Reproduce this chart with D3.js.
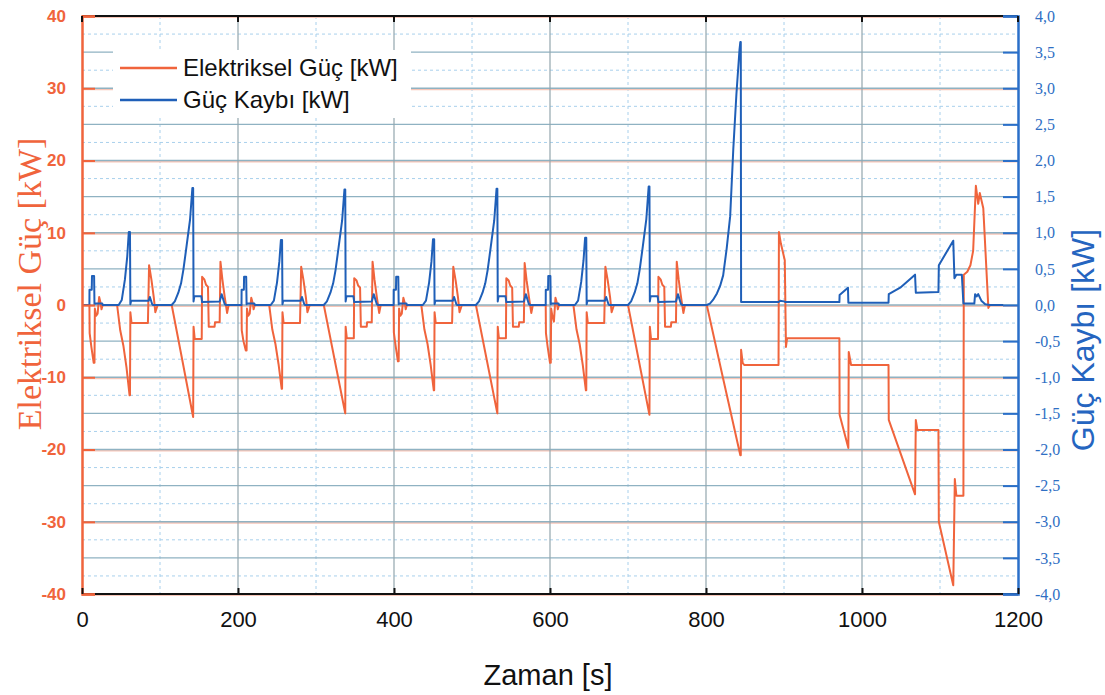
<!DOCTYPE html>
<html>
<head>
<meta charset="utf-8">
<script src="https://cdn.jsdelivr.net/npm/d3@7"></script>
<style>
  body { margin: 0; background: #fff; }
  svg { display: block; }
</style>
</head>
<body>
<div id="chart"></div>
<script>
// eksen tikleri
var timeTicks = [0, 200, 400, 600, 800, 1000, 1200];
var gucTicks = [40, 30, 20, 10, 0, -10, -20, -30, -40];
var kayipTicks = [4, 3.5, 3, 2.5, 2, 1.5, 1, 0.5, 0, -0.5, -1, -1.5, -2, -2.5, -3, -3.5, -4];

// Elektriksel güç [kW], [zaman s, değer]
var elektrikselGuc = [
  [0,0],[9.5,0],[9.8,-3.9],[12,-5.8],[15,-8.0],[16,-8.0],[16.5,-0.5],[18,-1.5],[20,-1.2],[22,1.1],[24,0.2],[25,-0.6],[26.5,0],
  [45,0],[49,-3.5],[53,-5.6],[57,-8.6],[61,-12.5],[61.5,-12.5],[62,-1.0],[63.5,-2.5],[84.5,-2.5],[86,5.5],[89,3.5],[92,1.1],[94,-1.0],[97,0],
  [115,0],[128,-7.3],[142.5,-15.5],[143,-3.0],[144.5,-4.7],[153.5,-4.7],[154,3.9],[157,3.5],[159,2.8],[161.5,2.5],[162.5,-3.0],[170,-3.0],[170.5,-2.4],[176.5,-2.4],[177.5,6.0],[180,3.5],[183,1.1],[186,-1.1],[188,0],
  [204.5,0],[204.8,-3.5],[207,-5.0],[210,-6.3],[211,-6.3],[211.5,-0.5],[213,-1.5],[215,-1.2],[217,1.0],[219,0.2],[220,-0.6],[221.5,0],
  [240,0],[244,-3.4],[248,-5.4],[252,-8.2],[256,-11.6],[256.5,-11.6],[257,-1.0],[258.5,-2.5],[279.5,-2.5],[281,5.3],[284,3.4],[287,1.1],[289,-1.0],[292,0],
  [310,0],[323,-7.1],[337.5,-15.0],[338,-3.0],[339.5,-4.6],[348.5,-4.6],[349,3.7],[352,3.4],[354,2.7],[356.5,2.4],[357.5,-3.0],[365,-3.0],[365.5,-2.4],[371.5,-2.4],[372.5,6.0],[375,3.5],[378,1.1],[381,-1.1],[383,0],
  [399.5,0],[399.8,-3.8],[402,-5.6],[405,-7.8],[406,-7.8],[406.5,-0.5],[408,-1.5],[410,-1.2],[412,1.0],[414,0.2],[415,-0.6],[416.5,0],
  [435,0],[439,-3.4],[443,-5.4],[447,-8.3],[451,-11.8],[451.5,-11.8],[452,-1.0],[453.5,-2.5],[474.5,-2.5],[476,5.3],[479,3.4],[482,1.1],[484,-1.0],[487,0],
  [505,0],[518,-7.1],[532.5,-15.0],[533,-3.0],[534.5,-4.6],[543.5,-4.6],[544,3.7],[547,3.4],[549,2.7],[551.5,2.4],[552.5,-3.0],[560,-3.0],[560.5,-2.4],[566.5,-2.4],[567.5,5.8],[570,3.4],[573,1.1],[576,-1.1],[578,0],
  [594.5,0],[594.8,-3.9],[597,-5.8],[600,-8.0],[601,-8.0],[601.5,-0.5],[603,-1.5],[605,-2.3],[607,1.0],[609,0.2],[610,-0.6],[611.5,0],
  [630,0],[634,-3.4],[638,-5.4],[642,-8.3],[646,-11.8],[646.5,-11.8],[647,-1.0],[648.5,-2.5],[669.5,-2.5],[671,5.3],[674,3.4],[677,1.1],[679,-1.0],[682,0],
  [700,0],[713,-7.2],[727.5,-15.2],[728,-3.0],[729.5,-4.7],[738.5,-4.7],[739,3.9],[742,3.5],[744,2.8],[746.5,2.5],[747.5,-3.0],[755,-3.0],[755.5,-2.4],[761.5,-2.4],[762.5,6.0],[765,3.5],[768,1.1],[771,-1.1],[773,0],
  [801,0],[822,-10.2],[844,-20.8],[844.6,-20.8],[845,-6.2],[847,-8.0],[849,-8.3],[893,-8.3],[893.5,10.1],[896,8.5],[901,6.2],[902.5,-5.8],[904,-4.6],
  [971,-4.6],[971.3,-15.2],[982.5,-19.8],[983,-6.5],[986,-8.3],[1034,-8.3],[1034.3,-15.9],[1068,-26.2],[1069,-15.9],[1071,-17.3],[1098,-17.3],
  [1098.5,-30.0],[1117,-38.8],[1119,-24.1],[1121,-26.4],[1130,-26.4],[1130.5,4.2],[1135,4.6],[1139,5.5],[1142.5,7.5],[1146,16.5],[1149,14.0],[1151,15.5],[1155.5,13.4],[1162,-0.4],[1164,0],[1181,0]
];

// Güç kaybı [kW], [zaman s, değer]
var gucKaybi = [
  [0,0],[9.5,0],[9.6,0.21],[12.5,0.21],[12.8,0.40],[15.5,0.40],[16,0.01],[16.5,0.02],[26,0.02],[26.5,0],
  [47,0],[51,0.07],[55,0.35],[58,0.67],[60,1.01],[61.5,1.01],[62,0.01],[63,0.06],[85.5,0.06],[87,0.11],[90,0.01],[91,0],
  [115,0],[119,0.05],[123.5,0.17],[127,0.30],[130,0.49],[134,0.81],[138.5,1.18],[141.5,1.62],[142.5,1.62],[143,0.05],[144,0.12],[153,0.12],[154,0.04],[176.5,0.05],[179,0.15],[183,0.01],[185,0],
  [204.5,0],[204.6,0.21],[207.5,0.21],[207.8,0.39],[210.5,0.39],[211,0.01],[211.5,0.02],[221,0.02],[221.5,0],
  [242,0],[246,0.06],[250,0.31],[253,0.60],[255,0.90],[256.5,0.90],[257,0.01],[258,0.06],[280.5,0.06],[282,0.11],[285,0.01],[286,0],
  [310,0],[314,0.05],[318.5,0.17],[322,0.30],[325,0.48],[329,0.80],[333.5,1.17],[336.5,1.60],[337.5,1.60],[338,0.05],[339,0.12],[348,0.12],[349,0.04],[371.5,0.05],[374,0.15],[378,0.01],[380,0],
  [399.5,0],[399.6,0.21],[402.5,0.21],[402.8,0.39],[405.5,0.39],[406,0.01],[406.5,0.02],[416,0.02],[416.5,0],
  [437,0],[441,0.06],[445,0.31],[448,0.60],[450,0.91],[451.5,0.91],[452,0.01],[453,0.06],[475.5,0.06],[477,0.11],[480,0.01],[481,0],
  [505,0],[509,0.05],[513.5,0.17],[517,0.30],[520,0.48],[524,0.80],[528.5,1.17],[531.5,1.61],[532.5,1.61],[533,0.05],[534,0.12],[543,0.12],[544,0.04],[566.5,0.05],[569,0.15],[573,0.01],[575,0],
  [594.5,0],[594.6,0.21],[597.5,0.21],[597.8,0.40],[600.5,0.40],[601,0.01],[601.5,0.02],[611,0.02],[611.5,0],
  [632,0],[636,0.06],[640,0.32],[643,0.62],[645,0.93],[646.5,0.93],[647,0.01],[648,0.06],[670.5,0.06],[672,0.11],[675,0.01],[676,0],
  [700,0],[704,0.05],[708.5,0.17],[712,0.30],[715,0.49],[719,0.81],[723.5,1.19],[726.5,1.64],[727.5,1.64],[728,0.05],[729,0.12],[738,0.12],[739,0.04],[761.5,0.05],[764,0.15],[768,0.01],[770,0],
  [801,0],[805,0.02],[809,0.07],[814,0.16],[818,0.26],[822,0.41],[826.5,0.78],[831,1.23],[835,2.16],[839,2.92],[843,3.54],[844,3.64],[844.6,3.64],[845,0.04],
  [893,0.04],[895,0.06],[900,0.05],[902,0.04],[971,0.04],[971.3,0.14],[982,0.24],[982.5,0.03],[1034,0.03],[1034.3,0.15],[1049,0.24],[1068,0.42],[1069,0.17],
  [1098,0.18],[1098.5,0.55],[1117,0.89],[1118.5,0.37],[1121,0.42],[1128,0.42],[1130,0.02],[1144,0.02],[1145,0.15],[1147,0.12],[1149,0.15],[1153,0.06],[1158,0.01],[1164,0],[1181,0]
];

var orange = "#f0643c", blue = "#1f5fb8";

var margin = {top: 16, right: 87, bottom: 101, left: 82},
  width = 1105 - margin.left - margin.right,
  height = 695 - margin.top - margin.bottom;

var svg = d3.select("#chart")
  .append("svg")
  .attr("width", 1105)
  .attr("height", 695)
  .style("font-family", "Arial, 'Liberation Sans', sans-serif");

var g = svg.append("g")
  .attr("transform", "translate(" + margin.left + "," + margin.top + ")");

var x = d3.scaleLinear().domain([0, 1200]).range([0, width]);
var yL = d3.scaleLinear().domain([-40, 40]).range([height, 0]);
var yR = d3.scaleLinear().domain([-4, 4]).range([height, 0]);

// ızgara: kesikli ara çizgiler
var minorY = d3.range(-3.75, 4, 0.5);
g.append("g").selectAll("line").data(minorY).enter().append("line")
  .attr("x1", 0).attr("x2", width)
  .attr("y1", d => yR(d)).attr("y2", d => yR(d))
  .attr("stroke", "#a8d0ec").attr("stroke-width", 1).attr("stroke-dasharray", "3,3");

g.append("g").selectAll("line").data([100, 300, 500, 700, 900, 1100]).enter().append("line")
  .attr("x1", d => x(d)).attr("x2", d => x(d))
  .attr("y1", 0).attr("y2", height)
  .attr("stroke", "#a8d0ec").attr("stroke-width", 1).attr("stroke-dasharray", "3,3");

// ızgara: ana çizgiler
g.append("g").selectAll("line").data(gucTicks).enter().append("line")
  .attr("x1", 0).attr("x2", width)
  .attr("y1", d => yL(d) + 1).attr("y2", d => yL(d) + 1)
  .attr("stroke", "#f7c6b8").attr("stroke-width", 2);

g.append("g").selectAll("line").data(kayipTicks).enter().append("line")
  .attr("x1", 0).attr("x2", width)
  .attr("y1", d => yR(d)).attr("y2", d => yR(d))
  .attr("stroke", "#8fb2c2").attr("stroke-width", 1.3);

g.append("g").selectAll("line").data([200, 400, 600, 800, 1000]).enter().append("line")
  .attr("x1", d => x(d)).attr("x2", d => x(d))
  .attr("y1", 0).attr("y2", height)
  .attr("stroke", "#93a6ae").attr("stroke-width", 1.2);

// legend arka planı
g.append("rect")
  .attr("x", 31).attr("y", 34).attr("width", 298).attr("height", 68)
  .attr("fill", "#fff");

// seriler
var lineL = d3.line().x(d => x(d[0])).y(d => yL(d[1]));
var lineR = d3.line().x(d => x(d[0])).y(d => yR(d[1]));

g.append("path")
  .datum(elektrikselGuc)
  .attr("fill", "none")
  .attr("stroke", orange)
  .attr("stroke-width", 2)
  .attr("stroke-linejoin", "round")
  .attr("d", lineL);

g.append("path")
  .datum(gucKaybi)
  .attr("fill", "none")
  .attr("stroke", blue)
  .attr("stroke-width", 2)
  .attr("stroke-linejoin", "round")
  .attr("d", lineR);

// çerçeve
g.append("line").attr("x1", 0).attr("x2", width).attr("y1", 0).attr("y2", 0)
  .attr("stroke", "#111").attr("stroke-width", 2);
g.append("line").attr("x1", 0).attr("x2", width).attr("y1", height).attr("y2", height)
  .attr("stroke", "#111").attr("stroke-width", 2);

// sol eksen
var leftAxis = g.append("g")
  .call(d3.axisLeft(yL).tickValues(gucTicks).tickSize(-13).tickPadding(16).tickFormat(d => String(d)));
leftAxis.select(".domain").attr("stroke", orange).attr("stroke-width", 2.5);
leftAxis.selectAll(".tick line").attr("stroke", orange).attr("stroke-width", 2);
leftAxis.selectAll(".tick text")
  .attr("fill", orange)
  .style("font-size", "17px")
  .style("font-weight", "bold")
  .style("font-family", "Arial, 'Liberation Sans', sans-serif");

// sağ eksen
var rightAxis = g.append("g")
  .attr("transform", "translate(" + width + ",0)")
  .call(d3.axisRight(yR).tickValues(kayipTicks).tickSize(-15).tickPadding(17)
    .tickFormat(d => d.toFixed(1).replace(".", ",")));
rightAxis.select(".domain").attr("stroke", "#2a6fc9").attr("stroke-width", 2.5);
rightAxis.selectAll(".tick line").attr("stroke", "#2a6fc9").attr("stroke-width", 2);
rightAxis.selectAll(".tick text")
  .attr("fill", "#2f6fc4")
  .style("font-size", "16px")
  .style("font-family", "'Liberation Serif', 'DejaVu Serif', serif");

// alt eksen
var bottomAxis = g.append("g")
  .attr("transform", "translate(0," + height + ")")
  .call(d3.axisBottom(x).tickValues(timeTicks).tickSize(-6).tickPadding(17).tickFormat(d => String(d)));
bottomAxis.select(".domain").remove();
bottomAxis.selectAll(".tick line").attr("stroke", "#111").attr("stroke-width", 2);
bottomAxis.selectAll(".tick text")
  .attr("fill", "#111")
  .style("font-size", "22px")
  .style("font-family", "Arial, 'Liberation Sans', sans-serif");

// üst kenar tikleri
g.append("g").selectAll("line").data(timeTicks).enter().append("line")
  .attr("x1", d => x(d)).attr("x2", d => x(d))
  .attr("y1", 0).attr("y2", 6)
  .attr("stroke", "#111").attr("stroke-width", 2);

// eksen başlıkları
svg.append("text")
  .attr("transform", "translate(41,284) rotate(-90)")
  .attr("text-anchor", "middle")
  .attr("fill", orange)
  .style("font-family", "'Liberation Serif', 'DejaVu Serif', serif")
  .style("font-size", "34px")
  .text("Elektriksel Güç [kW]");

svg.append("text")
  .attr("transform", "translate(1094,340) rotate(-90)")
  .attr("text-anchor", "middle")
  .attr("fill", "#2565c0")
  .style("font-size", "32px")
  .text("Güç Kaybı [kW]");

svg.append("text")
  .attr("x", 548)
  .attr("y", 685)
  .attr("text-anchor", "middle")
  .attr("fill", "#111")
  .style("font-size", "29px")
  .text("Zaman [s]");

// legend
var legendItems = [
  {label: "Elektriksel Güç [kW]", color: orange},
  {label: "Güç Kaybı [kW]", color: blue}
];
var legend = g.selectAll(".legend")
  .data(legendItems)
  .enter().append("g")
  .attr("class", "legend")
  .attr("transform", (d, i) => "translate(38," + (52 + i * 32) + ")");

legend.append("line")
  .attr("x1", 0).attr("x2", 57)
  .attr("stroke", d => d.color)
  .attr("stroke-width", 2.5);

legend.append("text")
  .attr("x", 63)
  .attr("y", 0)
  .attr("dy", ".35em")
  .attr("fill", "#111")
  .style("font-size", "24px")
  .text(d => d.label);
</script>
</body>
</html>
